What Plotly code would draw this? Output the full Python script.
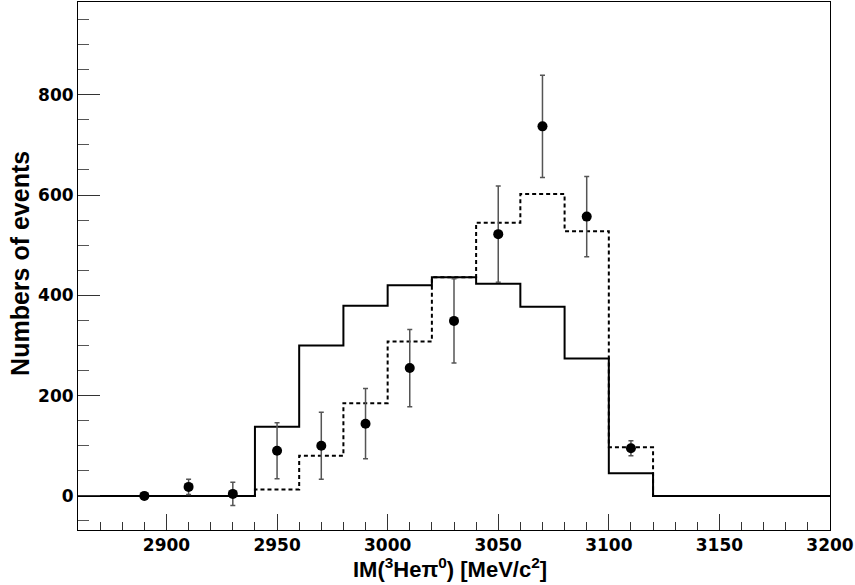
import plotly.graph_objects as go

# Bin edges (MeV/c^2), 20 MeV bins from 2860 to 3200
bin_edges = [2860, 2880, 2900, 2920, 2940, 2960, 2980, 3000, 3020, 3040,
             3060, 3080, 3100, 3120, 3140, 3160, 3180, 3200]
# Solid histogram
solid_vals = [0, 0, 0, 0, 138, 300, 379, 420, 436, 423, 377, 274, 45, 0, 0, 0, 0]
# Dashed histogram
dashed_vals = [0, 0, 0, 0, 13, 80, 185, 308, 436, 545, 602, 528, 97, 0, 0, 0, 0]
# Data points
data_x = [2890, 2910, 2930, 2950, 2970, 2990, 3010, 3030, 3050, 3070, 3090, 3110]
data_y = [0, 18, 4, 90, 100, 144, 255, 349, 522, 737, 557, 95]
data_err = [0, 15, 23, 56, 67, 70, 77, 84, 96, 102, 80, 15]

x_ticks = [2900, 2950, 3000, 3050, 3100, 3150, 3200]
y_ticks = [0, 200, 400, 600, 800]

FONT = "DejaVu Sans"
TFONT = "Liberation Sans"

fig = go.Figure()

fig.add_trace(go.Scatter(
    x=bin_edges, y=solid_vals + [solid_vals[-1]],
    mode="lines", line=dict(shape="hv", color="black", width=2),
    showlegend=False, hoverinfo="skip"))

fig.add_trace(go.Scatter(
    x=bin_edges, y=dashed_vals + [dashed_vals[-1]],
    mode="lines", line=dict(shape="hv", color="black", width=2, dash="4px,3px"),
    showlegend=False, hoverinfo="skip"))

fig.add_trace(go.Scatter(
    x=data_x, y=data_y, mode="markers",
    marker=dict(color="black", size=10, symbol="circle"),
    error_y=dict(type="data", array=data_err, visible=True,
                 color="#555555", thickness=1.5, width=2.5),
    showlegend=False))

fig.update_layout(
    width=855, height=585,
    margin=dict(l=78, r=25, t=2, b=55),
    plot_bgcolor="white", paper_bgcolor="white",
    font=dict(family=FONT, size=17, color="black"),
    xaxis=dict(range=[2860, 3200], tickvals=x_ticks,
               ticks="inside", ticklen=16, tickwidth=1, tickcolor="#333",
               minor=dict(dtick=10, tick0=2860, ticks="inside", ticklen=8,
                          tickwidth=1, tickcolor="#333", showgrid=False),
               showgrid=False, zeroline=False,
               showline=True, linecolor="black", linewidth=1, mirror=True,
               tickfont=dict(family=FONT, size=17, weight="bold")),
    yaxis=dict(range=[-68, 985], tickvals=y_ticks,
               ticks="inside", ticklen=22, tickwidth=1, tickcolor="#333",
               minor=dict(dtick=50, tick0=0, ticks="inside", ticklen=11,
                          tickwidth=1, tickcolor="#555", showgrid=False),
               showgrid=False, zeroline=False,
               showline=True, linecolor="black", linewidth=1, mirror=True,
               tickfont=dict(family=FONT, size=17, weight="bold")),
)

fig.add_annotation(
    text="IM(<sup>3</sup>Heπ<sup>0</sup>) [MeV/c<sup>2</sup>]",
    xref="paper", yref="paper", x=0.495, y=0, yshift=-22,
    xanchor="center", yanchor="top", showarrow=False,
    font=dict(family=TFONT, size=22, weight="bold", color="black"))

fig.add_annotation(
    text="Numbers of events",
    xref="paper", yref="paper", x=0, y=0.504, xshift=-42,
    xanchor="right", yanchor="middle", textangle=-90, showarrow=False,
    font=dict(family=TFONT, size=25, weight="bold", color="black"))

fig.write_html(
    "out.html",
    config={"displayModeBar": False},
    post_script="document.body.style.margin='0';document.body.style.padding='0';",
)
